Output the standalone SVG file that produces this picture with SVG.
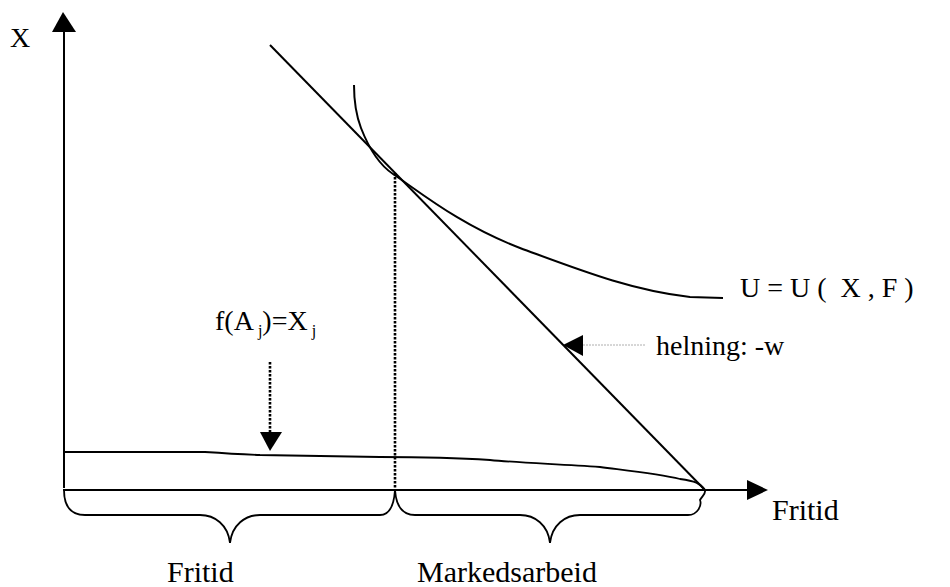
<svg xmlns="http://www.w3.org/2000/svg" width="950" height="587" viewBox="0 0 950 587">
<style>
text{font-family:"Liberation Serif","Times New Roman",serif;font-size:28px;fill:#000}
.big{font-size:30px}
.ln{fill:none;stroke:#000;stroke-width:2}
.thin{fill:none;stroke:#000;stroke-width:1.8}
.dot{fill:none;stroke:#000;stroke-width:2.6;stroke-dasharray:2.5 1.5}
.ah{fill:#000;stroke:none}
</style>
<rect width="950" height="587" fill="#fff"/>
<g id="axes">
<line class="ln" x1="64" y1="28" x2="64" y2="488"/>
<polygon class="ah" points="63,12 52,32 76,32"/>
<line class="ln" x1="63" y1="490" x2="750" y2="490"/>
<polygon class="ah" points="768,490 747,480 747,500"/>
<text x="10" y="47">X</text>
<text class="big" x="772" y="520">Fritid</text>
</g>
<g id="budget-line">
<line class="ln" x1="270" y1="45" x2="705" y2="490"/>
</g>
<g id="indifference-curve">
<path class="ln" d="M354,85 C354,100 356,115 361,128 C368,146 378,164 393,174 C420,192 460,225 520,248 C580,270 630,290 690,297 L723,298"/>
<text x="740" y="297" xml:space="preserve">U = U (  X , F )</text>
</g>
<g id="production-curve">
<path class="thin" d="M64,452 L205,452 C220,453 235,454 260,455 L320,456 L380,457 C420,457 460,458 490,460 C520,463 560,464 600,467 C640,472 660,474 680,479 C695,481 700,483 705,490"/>
</g>
<g id="connectors">
<line class="dot" x1="395" y1="173" x2="395" y2="490"/>
<line class="dot" x1="270" y1="362" x2="270" y2="433"/>
<polygon class="ah" points="270,451 260,432 282,432"/>
<line x1="583" y1="345" x2="645" y2="345" stroke="#999" stroke-width="0.8" stroke-dasharray="2 1"/>
<polygon class="ah" points="563,345 583,335 583,356"/>
</g>
<g id="labels">
<text x="215" y="330">f(A<tspan font-size="16" dy="6"> j</tspan><tspan dy="-6">)=X</tspan><tspan font-size="16" dy="6"> j</tspan></text>
<text x="656" y="355" font-size="26">helning: -w</text>
</g>
<g id="braces">
<path class="thin" d="M64,490 C64,505 70,515 85,515 L200,515 C215,515 228,525 230,543 C232,525 245,515 260,515 L380,515 C390,515 394,505 395,490"/>
<path class="thin" d="M395,490 C396,505 402,515 415,515 L520,515 C535,515 548,525 550,543 C552,525 565,515 580,515 L688,515 C698,515 702,505 700,500 C702,496 706,494 705,490"/>
<text class="big" x="167" y="582">Fritid</text>
<text class="big" x="417" y="582">Markedsarbeid</text>
</g>
</svg>
